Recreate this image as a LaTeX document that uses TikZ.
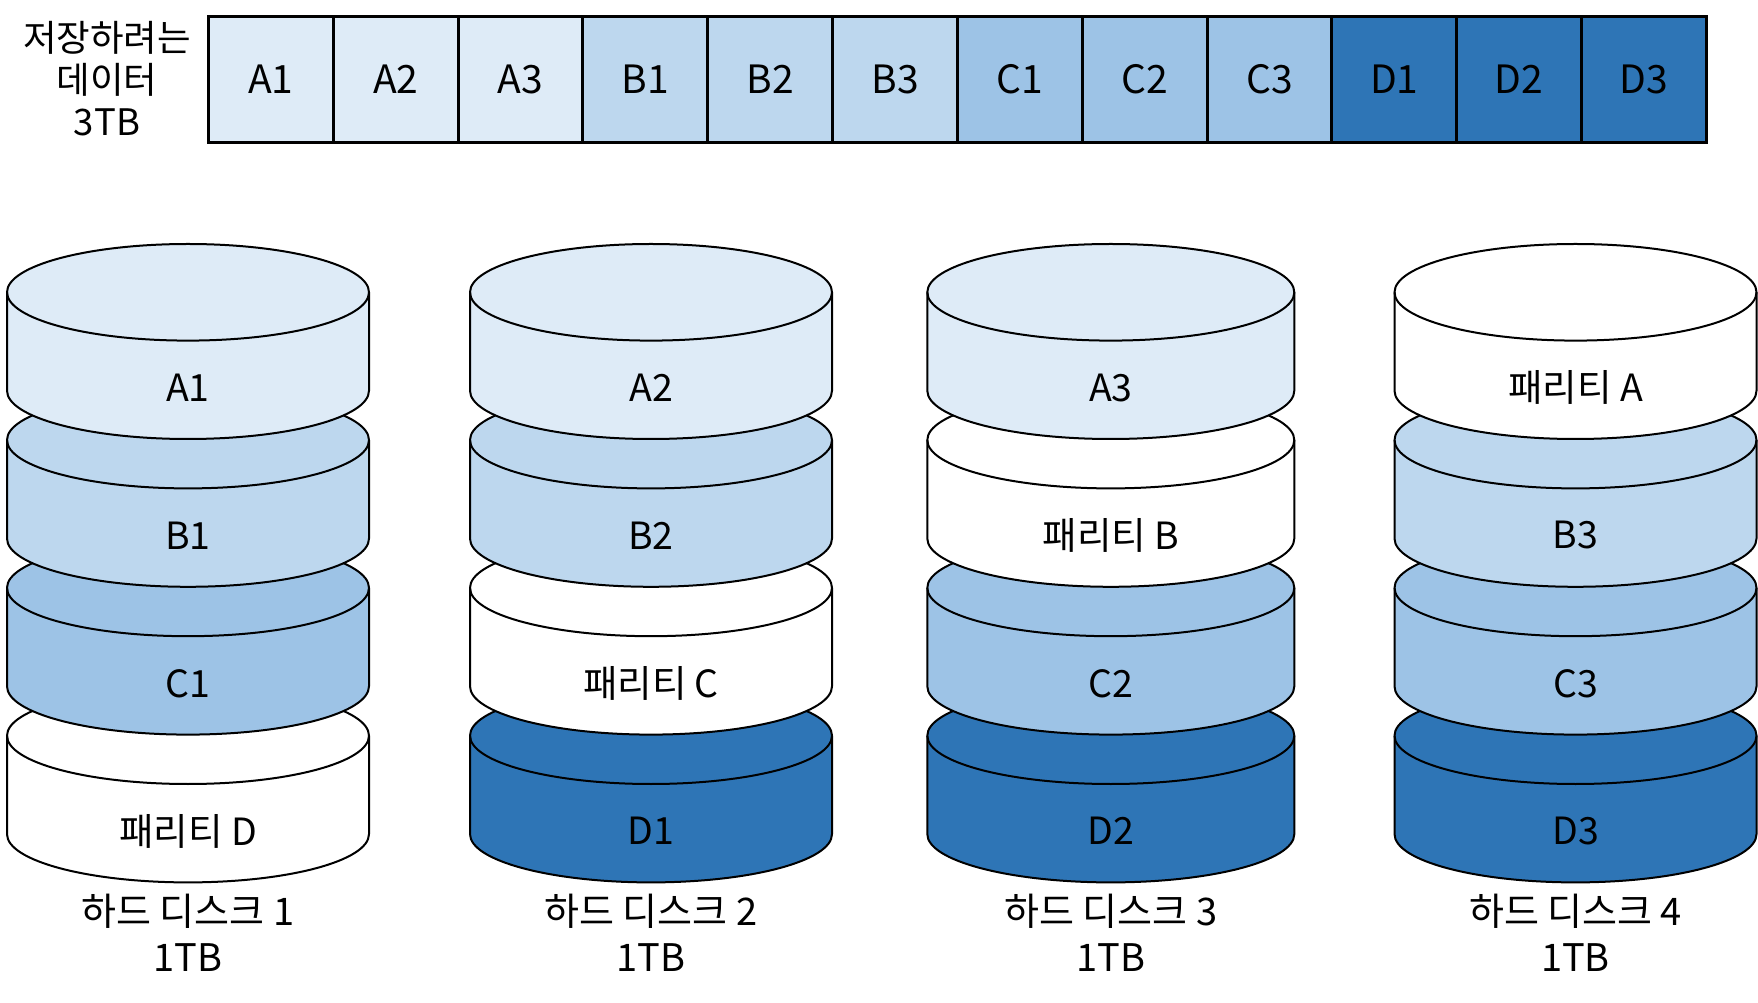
\documentclass[tikz,border=0pt]{standalone}
\usepackage{fontspec}
\setmainfont{Noto Sans CJK KR}
\definecolor{ca}{HTML}{DEEBF7}
\definecolor{cb}{HTML}{BDD7EE}
\definecolor{cc}{HTML}{9DC3E6}
\definecolor{cd}{HTML}{2E75B6}
\def\diskrx{181}
\newcommand\drawdisk[5]{%
  \path[diskbody, fill=#3] (#1-\diskrx,#2) -- (#1-\diskrx,#2-98.4)
    arc[start angle=180,end angle=360,x radius=\diskrx,y radius=48.3]
    -- (#1+\diskrx,#2)
    arc[start angle=0,end angle=180,x radius=\diskrx,y radius=48.3] -- cycle;
  \draw[diskline] (#1-\diskrx,#2) arc[start angle=180,end angle=360,x radius=\diskrx,y radius=48.3];
  \node[disklabel] (#5) at (#1,#2-95.4) {#4};
}
\begin{document}
\begin{tikzpicture}[x=1pt,y=1pt,
  cell/.style={draw, line width=3pt, minimum width=124.83pt, minimum height=125.6pt,
    inner sep=0pt, font=\fontsize{39}{40}\selectfont},
  diskbody/.style={draw, line width=2pt, line join=round},
  diskline/.style={line width=2pt},
  disklabel/.style={inner sep=0pt, font=\fontsize{37.5}{40}\selectfont},
  caption/.style={inner sep=0pt, align=center, font=\fontsize{38}{46}\selectfont}]
\useasboundingbox (0,0) rectangle (1758,1002);
% top data bar
\node[inner sep=0pt, align=center, font=\fontsize{36.5}{42}\selectfont] (datalabel) at (107,923) {저장하려는\\데이터\\3TB};
\foreach \lab/\col [count=\i from 0] in {A1/ca,A2/ca,A3/ca,B1/cb,B2/cb,B3/cb,C1/cc,C2/cc,C3/cc,D1/cd,D2/cd,D3/cd}
  \node[cell, fill=\col] (cell\i) at (270.9+124.83*\i, 922.4) {\lab};
% stack 1
\def\diskrx{181}
\drawdisk{188}{266.3}{white}{패리티 D}{s1d4}
\drawdisk{188}{414.1}{cc}{C1}{s1d3}
\drawdisk{188}{561.9}{cb}{B1}{s1d2}
\drawdisk{188}{709.7}{ca}{A1}{s1d1}
\node[caption] (cap1) at (188,69) {하드 디스크 1\\1TB};
% stack 2
\drawdisk{651}{266.3}{cd}{D1}{s2d4}
\drawdisk{651}{414.1}{white}{패리티 C}{s2d3}
\drawdisk{651}{561.9}{cb}{B2}{s2d2}
\drawdisk{651}{709.7}{ca}{A2}{s2d1}
\node[caption] (cap2) at (651,69) {하드 디스크 2\\1TB};
% stack 3
\def\diskrx{183.5}
\drawdisk{1110.8}{266.3}{cd}{D2}{s3d4}
\drawdisk{1110.8}{414.1}{cc}{C2}{s3d3}
\drawdisk{1110.8}{561.9}{white}{패리티 B}{s3d2}
\drawdisk{1110.8}{709.7}{ca}{A3}{s3d1}
\node[caption] (cap3) at (1110.8,69) {하드 디스크 3\\1TB};
% stack 4
\def\diskrx{181}
\drawdisk{1575.5}{266.3}{cd}{D3}{s4d4}
\drawdisk{1575.5}{414.1}{cc}{C3}{s4d3}
\drawdisk{1575.5}{561.9}{cb}{B3}{s4d2}
\drawdisk{1575.5}{709.7}{white}{패리티 A}{s4d1}
\node[caption] (cap4) at (1575.5,69) {하드 디스크 4\\1TB};
\end{tikzpicture}
\end{document}
